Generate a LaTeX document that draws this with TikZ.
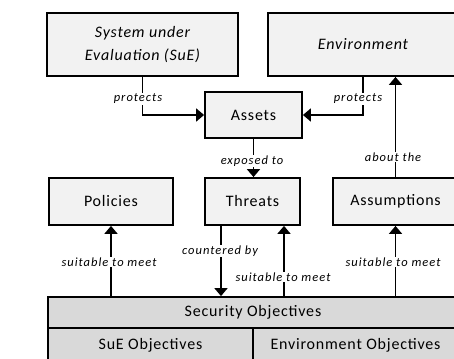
\documentclass[tikz,border=0pt]{standalone}
\usepackage{fontspec}
\setmainfont{Carlito}
\newfontfamily\boxfont[LetterSpace=5]{Carlito}
\newfontfamily\lblfont[LetterSpace=8]{Carlito}
\usetikzlibrary{arrows.meta}
\definecolor{boxgray}{HTML}{F2F2F2}
\definecolor{objgray}{HTML}{D9D9D9}
\tikzset{
  box/.style={draw=black, line width=1.8pt, fill=boxgray, inner sep=0pt, align=center,
    font=\boxfont\fontsize{16}{23}\selectfont},
  objbox/.style={box, fill=objgray},
  conn/.style={line width=1.8pt, -{Triangle[length=8pt,width=13pt]}},
  lbl/.style={fill=white, inner sep=1pt, font=\lblfont\itshape\fontsize{12.5}{14}\selectfont}
}
\begin{document}
\begin{tikzpicture}[x=1pt,y=-1pt]
\useasboundingbox (0,0) rectangle (454,358);
\clip (0,0) rectangle (454,358);
\fill[white] (0,0) rectangle (454,358);
% boxes
\node[box, minimum width=191pt, minimum height=63pt] (SuE) at (142.5,44.5) {\itshape System under\\\itshape Evaluation (SuE)};
\node[box, minimum width=190pt, minimum height=63pt] (Env) at (363,44.5) {\itshape Environment};
\node[box, minimum width=97pt, minimum height=46pt] (Assets) at (253.5,115) {Assets};
\node[box, minimum width=124pt, minimum height=47pt] (Pol) at (111,201.5) {Policies};
\node[box, minimum width=95pt, minimum height=47pt] (Thr) at (252.5,201.5) {Threats};
\node[box, minimum width=125pt, minimum height=47pt] (Ass) at (395.5,201.5) {Assumptions};
\node[objbox, minimum width=410pt, minimum height=31pt] (SO) at (253,312.5) {Security Objectives};
\node[objbox, minimum width=205pt, minimum height=34pt] (SuEO) at (150.5,345) {SuE Objectives};
\node[objbox, minimum width=205pt, minimum height=34pt] (EnvO) at (355.5,345) {Environment Objectives};
% connectors
\draw[conn] (SuE.south) |- (Assets.west);
\draw[conn] (Env.south) |- (Assets.east);
\draw[conn] (Ass.north) -- (Ass.north |- Env.south);
\draw[conn] (Assets.south) -- (Assets.south |- Thr.north);
\draw[conn] (SO.north -| Pol.south) -- (Pol.south);
\coordinate (cb) at ([xshift=-31.5pt]Thr.south);
\coordinate (sm) at ([xshift=31.5pt]Thr.south);
\draw[conn] (cb) -- (cb |- SO.north);
\draw[conn] (sm |- SO.north) -- (sm);
\draw[conn] (SO.north -| Ass.south) -- (Ass.south);
% labels
\node[lbl] (l1) at (138,99) {protects};
\node[lbl] (l2) at (358,99) {protects};
\node[lbl] (l3) at (393,157) {about the};
\node[lbl] (l4) at (252,161) {exposed to};
\node[lbl] (l5) at (109,262) {suitable to meet};
\node[lbl] (l6) at (220,251) {countered by};
\node[lbl] (l7) at (283,277) {suitable to meet};
\node[lbl] (l8) at (393,262) {suitable to meet};
\end{tikzpicture}
\end{document}
